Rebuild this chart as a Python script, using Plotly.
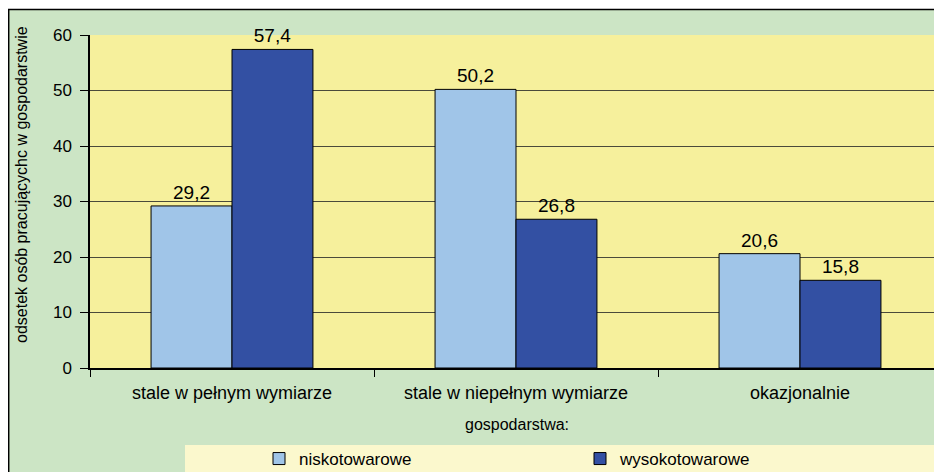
import plotly.graph_objects as go

categories = ["stale w pełnym wymiarze", "stale w niepełnym wymiarze", "okazjonalnie"]
niskotowarowe = [29.2, 50.2, 20.6]
wysokotowarowe = [57.4, 26.8, 15.8]
y_ticks = [0, 10, 20, 30, 40, 50, 60]

# the page body has an 8px margin, so figure coords = screen coords - 8
W, H = 934, 464
L, R, T, B = 82, 934, 27, 360
pw, ph = R - L, B - T


def px(x):
    return (x - L) / pw


def py(y):
    return (B - y) / ph


font = "Liberation Sans, Arial, sans-serif"

fig = go.Figure()
fig.add_trace(go.Bar(x=categories, y=niskotowarowe, name="niskotowarowe",
                     marker=dict(color="#A0C5E8", line=dict(color="black", width=1)),
                     texttemplate="%{y:.1f}", textposition="outside",
                     textfont=dict(size=19, color="black"), cliponaxis=False))
fig.add_trace(go.Bar(x=categories, y=wysokotowarowe, name="wysokotowarowe",
                     marker=dict(color="#3350A3", line=dict(color="black", width=1)),
                     texttemplate="%{y:.1f}", textposition="outside",
                     textfont=dict(size=19, color="black"), cliponaxis=False))

shapes = [
    # white strip on top, black frame lines on top and left
    dict(type="rect", xref="paper", yref="paper", x0=px(-5), x1=px(W + 5), y0=py(1), y1=py(-5),
         fillcolor="white", line=dict(width=0), layer="below"),
    dict(type="line", xref="paper", yref="paper", x0=px(0), x1=px(W + 5), y0=py(1.5), y1=py(1.5),
         line=dict(color="black", width=1.5)),
    dict(type="line", xref="paper", yref="paper", x0=px(0.7), x1=px(0.7), y0=py(1), y1=py(H + 5),
         line=dict(color="black", width=1.5)),
    # legend background
    dict(type="rect", xref="paper", yref="paper", x0=px(177), x1=px(W + 5), y0=py(437), y1=py(H + 5),
         fillcolor="#FBF8CD", line=dict(width=0), layer="below"),
]

fig.update_layout(
    width=W, height=H,
    margin=dict(l=L, r=W - R, t=T, b=H - B, autoexpand=False),
    paper_bgcolor="#CCE5C5",
    plot_bgcolor="#F6F09C",
    separators=", ",
    font=dict(family=font, size=17, color="black"),
    barmode="group",
    bargap=0.43,
    bargroupgap=0,
    shapes=shapes,
    showlegend=True,
    legend=dict(orientation="h", xref="container", yref="container",
                x=251 / W, xanchor="left", y=(H - 451) / H, yanchor="middle",
                bgcolor="rgba(0,0,0,0)", font=dict(size=17, color="black"),
                entrywidth=276, entrywidthmode="pixels", traceorder="normal"),
    annotations=[
        dict(text="gospodarstwa:", xref="paper", yref="paper", x=px(509), y=py(427),
             showarrow=False, font=dict(size=16, color="black")),
        # y axis title, sits a bit above the middle of the axis in the original
        dict(text="odsetek osób pracującychc w gospodarstwie", xref="paper", yref="paper",
             x=px(14), y=py(177), xanchor="center", yanchor="middle", textangle=-90,
             showarrow=False, font=dict(size=16, color="black")),
    ],
)
fig.update_xaxes(range=[-0.5, 2.5], showgrid=False, ticks="outside", tickson="boundaries",
                 ticklen=7, tickcolor="black", showline=True, linecolor="black", linewidth=1.5,
                 ticklabelstandoff=8, automargin=False,
                 tickfont=dict(size=18, color="black"))
fig.update_yaxes(range=[0, 60], tickvals=y_ticks, showgrid=True, gridcolor="#4a4a3a", gridwidth=1,
                 ticks="outside", ticklen=8, tickcolor="black", showline=True, linecolor="black",
                 linewidth=1.5, zeroline=False, ticklabelstandoff=5, automargin=False,
                 tickfont=dict(size=17, color="black"))

fig.write_html("out.html")
